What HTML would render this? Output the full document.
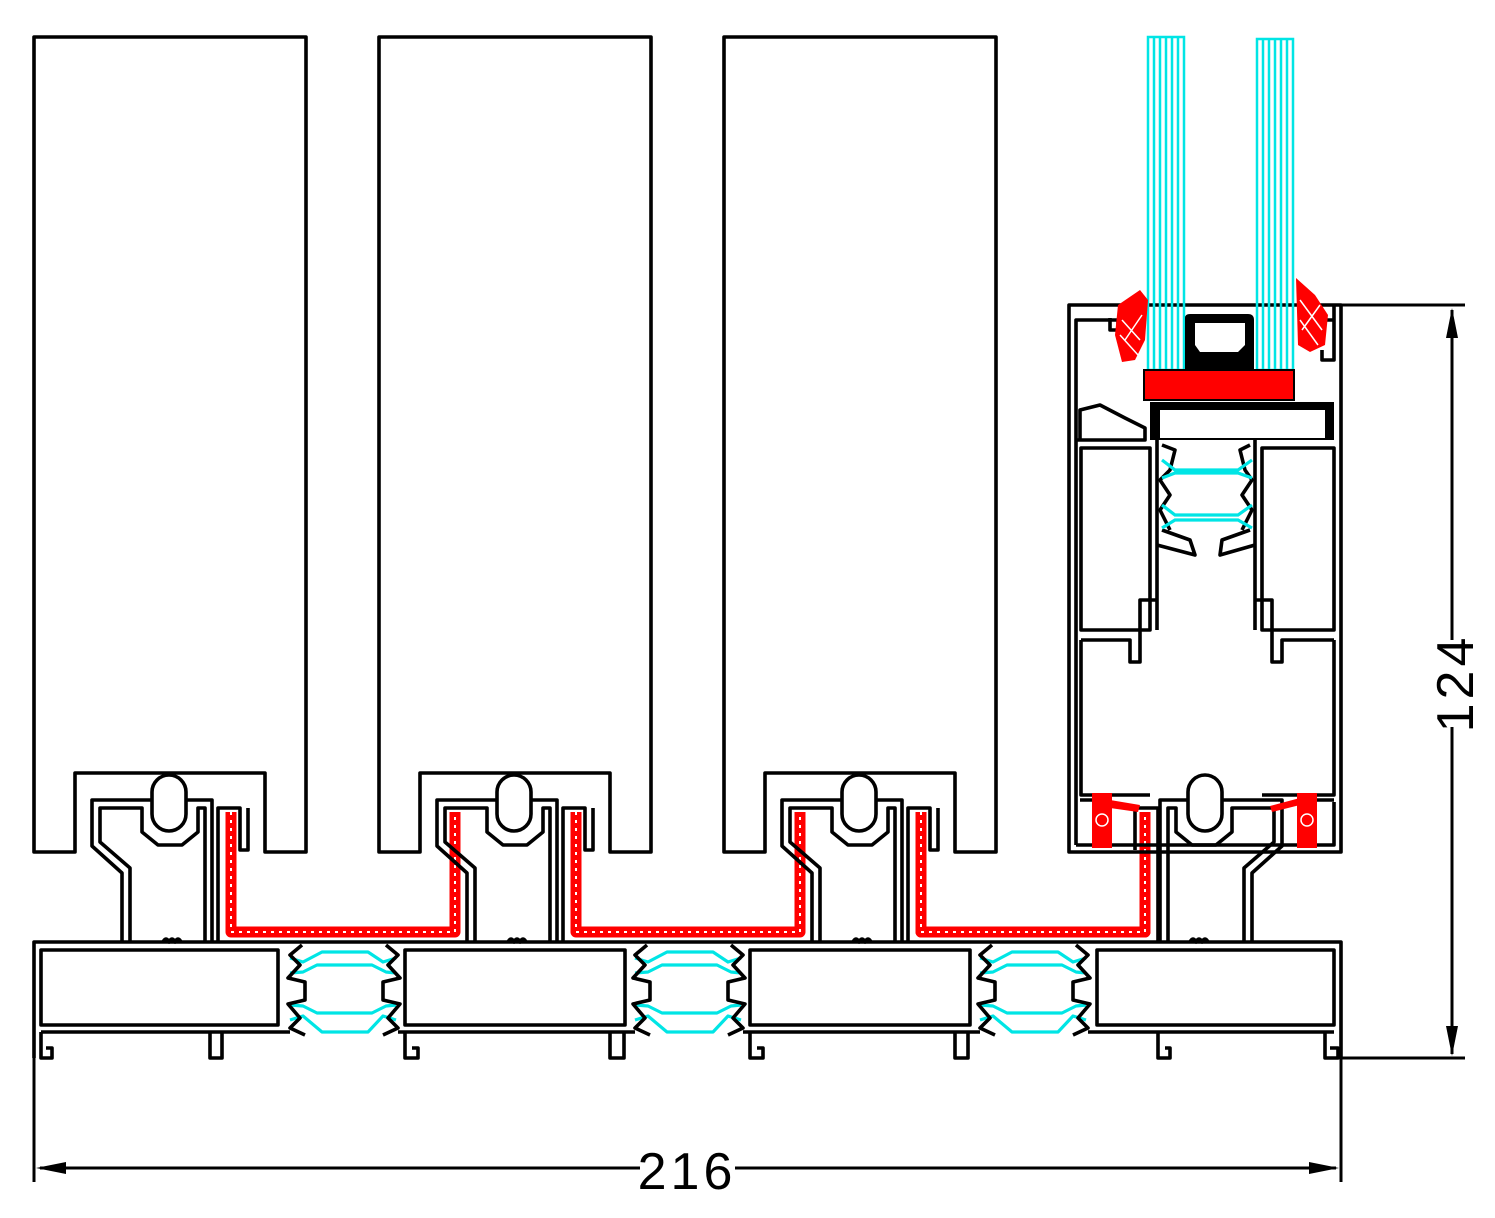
<!DOCTYPE html>
<html><head><meta charset="utf-8"><style>
html,body{margin:0;padding:0;background:#fff}
svg{display:block}
text{font-family:"Liberation Sans",sans-serif}
</style></head><body>
<svg width="1495" height="1218" viewBox="0 0 1495 1218" xmlns="http://www.w3.org/2000/svg">
<defs>
<g id="mod" fill="none" stroke="#000" stroke-width="3.6" stroke-linejoin="round">
  <path d="M34,852 V37 H306 V852 H265 V773 H75 V852 Z" fill="#fff"/>
  <path d="M122,942 V873 L92,846 V800 H212 V942"/>
  <path d="M130,942 V868 L100,842 V808 H142 V832 L158,845 H182 L198,832 V808 H205 V942"/>
  <rect x="152" y="775" width="34" height="56" rx="17" fill="#fff"/>
  <path d="M218,942 V808 H240 V850 H248 V808"/>
  <path d="M163,942 q3,-6 6,0 q3,-6 6,0 q3,-6 6,0"/>
  <path d="M231,812 V932 H455 V812" stroke="#f00" stroke-width="11"/>
  <path d="M231,812 V932 H455 V812" stroke="#fff" stroke-width="2" stroke-dasharray="3 5"/>
  <g stroke="#00e5e5" stroke-width="3.2">
    <path d="M290,958 L303,962 L322,952 L368,952 L383,962 L396,958"/>
    <path d="M290,973 L303,972 L317,965 L372,965 L386,972 L396,973"/>
    <path d="M290,1005 L303,1006 L317,1013 L372,1013 L386,1006 L396,1005"/>
    <path d="M290,1020 L303,1016 L322,1032 L368,1032 L383,1016 L396,1020"/>
  </g>
  <path d="M302,945 L290,955 L300,965 L288,978 L305,982 V1000 L288,1004 L300,1018 L290,1028 L305,1035"/>
  <path d="M386,945 L398,955 L388,965 L400,978 L383,982 V1000 L400,1004 L388,1018 L398,1028 L383,1035"/>
</g>
</defs>
<use href="#mod"/>
<use href="#mod" x="345"/>
<use href="#mod" x="690"/>
<g fill="none" stroke="#000" stroke-width="3.6" stroke-linejoin="round">
  <path d="M34,1058 V942 H1341 V1058"/>
  <rect x="41" y="950" width="237" height="75"/>
  <rect x="405" y="950" width="220" height="75"/>
  <rect x="750" y="950" width="220" height="75"/>
  <rect x="1097" y="950" width="237" height="75"/>
  <path d="M41,1032 H290 M398,1032 H635 M743,1032 H980 M1088,1032 H1334"/>
  <path d="M41,1032 V1058 H52 V1048 H46"/>
  <path d="M210,1032 V1058 H222 V1032"/>
  <path d="M405,1032 V1058 H418 V1048 H412"/>
  <path d="M610,1032 V1058 H624 V1032"/>
  <path d="M750,1032 V1058 H763 V1048 H757"/>
  <path d="M955,1032 V1058 H968 V1032"/>
  <path d="M1158,1032 V1058 H1170 V1048 H1165"/>
  <path d="M1325,1032 V1058 H1338 V1048 H1330"/>
  <path d="M1252,942 V873 L1282,846 V800 H1160 V942"/>
  <path d="M1244,942 V868 L1274,842 V808 H1232 V832 L1216,845 H1192 L1176,832 V808 H1168 V942"/>
  <rect x="1188" y="775" width="34" height="56" rx="17" fill="#fff"/>
  <path d="M1190,942 q3,-6 6,0 q3,-6 6,0 q3,-6 6,0"/>
  <path d="M1158,942 V808 H1135 V850"/>
  <path d="M921,812 V932 H1145 V812" stroke="#f00" stroke-width="11"/>
  <path d="M921,812 V932 H1145 V812" stroke="#fff" stroke-width="2" stroke-dasharray="3 5"/>
  <path d="M1069,852 V305 H1341 V852 Z"/>
  <path d="M1076,845 H1334 V802 M1076,845 V320 H1118 V330 H1110 V318"/>
  <path d="M1076,440 H1145 V428 L1125,418 L1100,405 L1080,410 V440"/>
  <path d="M1081,448 H1150 V630 H1081 Z"/>
  <path d="M1262,448 H1334 V630 H1262 Z"/>
  <path d="M1081,640 H1130 V662 H1140 V640 M1081,640 V795 H1150 M1334,640 V795 H1262 M1334,640 H1282 V662 H1272 V640"/>
  <path d="M1157,440 V630 M1255,440 V630 M1140,640 V600 H1157 M1272,640 V600 H1255"/>
  <path d="M1334,320 V305 M1322,320 H1334 V360 H1322 V350"/>
  <path d="M1255,440 V425 H1270"/>
  <path d="M1157,545 L1195,555 L1190,540 L1162,530 M1255,545 L1220,555 L1222,540 L1250,530"/>
  <path d="M1162,445 L1175,450 L1170,470 L1160,480 L1170,495 L1160,510 L1170,530 M1250,445 L1240,450 L1245,470 L1252,480 L1242,495 L1252,510 L1242,530"/>
  <path d="M1080,800 H1105 V845 M1310,800 H1334"/>
</g>
<g fill="none" stroke="#00e5e5" stroke-width="3.2">
  <path d="M1162,460 L1175,470 H1238 L1252,460 M1162,478 L1175,473 H1238 L1252,478"/>
  <path d="M1162,505 L1175,515 H1238 L1252,505 M1162,528 L1175,520 H1238 L1252,528"/>
</g>
<g fill="none" stroke="#00e5e5" stroke-width="2.5">
  <rect x="1148" y="37" width="36" height="333"/>
  <path d="M1154,37 V370 M1160,37 V370 M1166,37 V370 M1172,37 V370 M1178,37 V370"/>
  <rect x="1257" y="39" width="36" height="331"/>
  <path d="M1263,39 V370 M1269,39 V370 M1275,39 V370 M1281,39 V370 M1287,39 V370"/>
</g>
<path d="M1185,318 Q1185,314 1190,314 H1248 Q1254,314 1254,320 V372 H1185 Z" fill="#000"/>
<path d="M1195,323 H1245 V345 L1238,352 H1200 L1195,345 Z" fill="#fff"/>
<rect x="1144" y="370" width="150" height="30" fill="#f00" stroke="#000" stroke-width="2"/>
<path d="M1150,402 H1334 V440 H1150 Z" fill="#000"/>
<rect x="1160" y="410" width="165" height="28" fill="#fff"/>
<g fill="#f00">
  <path d="M1118,305 L1140,290 L1148,300 L1145,340 L1135,360 L1122,362 L1115,335 Z"/>
  <path d="M1296,278 L1315,295 L1328,315 L1325,345 L1310,352 L1298,345 Z"/>
  <rect x="1092" y="793" width="20" height="55"/>
  <rect x="1297" y="793" width="20" height="55"/>
  <path d="M1110,800 L1140,805 L1138,812 L1110,808 Z"/>
  <path d="M1300,798 L1270,806 L1272,812 L1300,805 Z"/>
</g>
<g fill="none" stroke="#fff" stroke-width="1.5">
  <path d="M1122,320 L1140,340 M1125,340 L1142,315 M1120,335 L1138,355 M1300,300 L1322,330 M1302,330 L1320,305 M1300,320 L1318,345"/>
  <circle cx="1102" cy="820" r="6"/><circle cx="1307" cy="820" r="6"/>
</g>
<g stroke="#000" stroke-width="3" fill="none">
  <path d="M1341,305 H1465 M1341,1058 H1465"/>
  <path d="M1452,310 V640 M1452,727 V1054"/>
  <path d="M34,1058 V1182 M1341,1058 V1182"/>
  <path d="M40,1168 H640 M735,1168 H1336"/>
</g>
<g fill="#000">
  <path d="M1452,308 L1446,338 H1458 Z"/>
  <path d="M1452,1056 L1446,1026 H1458 Z"/>
  <path d="M36,1168 L66,1162 V1174 Z"/>
  <path d="M1339,1168 L1309,1162 V1174 Z"/>
</g>
<text x="687" y="1189" font-size="52" text-anchor="middle" letter-spacing="4">216</text>
<text transform="translate(1473,683) rotate(-90)" font-size="52" text-anchor="middle" letter-spacing="4">124</text>
</svg>
</body></html>
